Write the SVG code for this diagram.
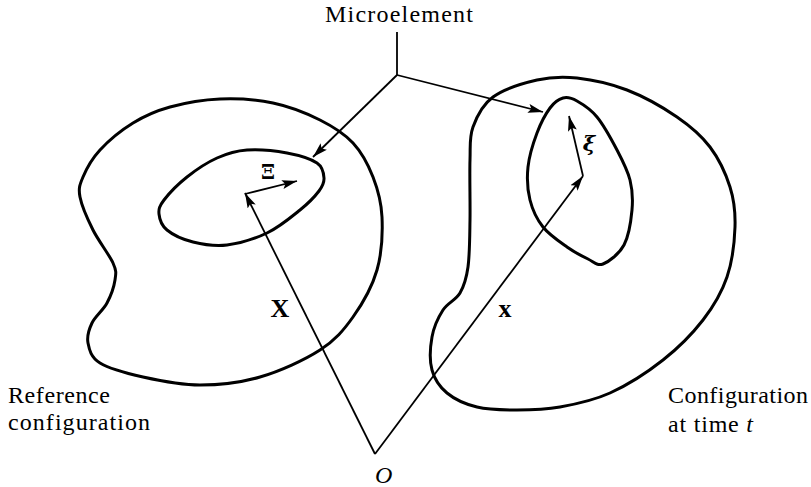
<svg xmlns="http://www.w3.org/2000/svg" width="811" height="487" viewBox="0 0 811 487">
<style>
.shape{fill:none;stroke:#000;stroke-width:3;stroke-linejoin:round}
.vec{fill:none;stroke:#000;stroke-width:1.8}
</style>
<defs>
<marker id="ah" markerUnits="userSpaceOnUse" markerWidth="16" markerHeight="10" refX="15" refY="5" orient="auto">
<path d="M0,0.5 L15,5 L0,9.5 L3,5 z" fill="#000"/>
</marker>
</defs>
<g id="reference-outer">
<path class="shape" d="M220,99 C237.2,98.3 256.3,99.5 273,103 C289.7,106.5 306.7,113.3 320,120 C333.3,126.7 344.2,133.5 353,143 C361.8,152.5 368.2,164.7 373,177 C377.8,189.3 381.3,201.5 382,217 C382.7,232.5 381.8,253.3 377,270 C372.2,286.7 362.5,303.7 353,317 C343.5,330.3 335.5,340 320,350 C304.5,360 280,371.2 260,377 C240,382.8 219.5,385 200,385 C180.5,385 159.7,380.7 143,377 C126.3,373.3 109.2,368.7 100,363 C90.8,357.3 89.3,349.7 88,343 C86.7,336.3 88.8,329.7 92,323 C95.2,316.3 103.2,310.2 107,303 C110.8,295.8 114,286.7 115,280 C116,273.3 116.7,271.3 113,263 C109.3,254.7 98.5,241 93,230 C87.5,219 81.7,205.8 80,197 C78.3,188.2 79.7,184.8 83,177 C86.3,169.2 91.7,159 100,150 C108.3,141 121.3,130.2 133,123 C144.7,115.8 155.5,111 170,107 C184.5,103 202.8,99.7 220,99 Z"/>
</g>
<g id="reference-inner">
<path class="shape" d="M247,150 C258.7,149.2 275.3,150.8 287,153 C298.7,155.2 310.8,158.8 317,163 C323.2,167.2 323.7,173.3 324,178 C324.3,182.7 323,185.7 319,191 C315,196.3 308.7,203 300,210 C291.3,217 279.2,227.2 267,233 C254.8,238.8 239.3,243.5 227,245 C214.7,246.5 203,244.5 193,242 C183,239.5 172.7,234.7 167,230 C161.3,225.3 159.5,219 159,214 C158.5,209 159.3,206.2 164,200 C168.7,193.8 178.2,184 187,177 C195.8,170 207,162.5 217,158 C227,153.5 235.3,150.8 247,150 Z"/>
</g>
<g id="current-outer">
<path class="shape" d="M577,78 C592,79.7 610.3,83.5 627,90 C643.7,96.5 663.2,107.5 677,117 C690.8,126.5 701.2,135.3 710,147 C718.8,158.7 725.8,173.7 730,187 C734.2,200.3 735.5,212 735,227 C734.5,242 732.3,261.5 727,277 C721.7,292.5 713.7,306.2 703,320 C692.3,333.8 678.5,347.8 663,360 C647.5,372.2 627.2,385.2 610,393 C592.8,400.8 575.5,404.2 560,407 C544.5,409.8 530.8,410 517,410 C503.2,410 488.7,409.8 477,407 C465.3,404.2 454.5,399.2 447,393 C439.5,386.8 434.5,379.3 432,370 C429.5,360.7 430.2,347 432,337 C433.8,327 438.3,317.3 443,310 C447.7,302.7 455.8,300.2 460,293 C464.2,285.8 466.3,279.2 468,267 C469.7,254.8 469.7,237.8 470,220 C470.3,202.2 469.5,175.5 470,160 C470.5,144.5 469.2,137.5 473,127 C476.8,116.5 482.3,104.8 493,97 C503.7,89.2 523,83.2 537,80 C551,76.8 562,76.3 577,78 Z"/>
</g>
<g id="current-inner">
<path class="shape" d="M563,98 C567.5,96.8 571.3,97.8 577,101 C582.7,104.2 590.3,108.8 597,117 C603.7,125.2 611.5,139.5 617,150 C622.5,160.5 627.5,170 630,180 C632.5,190 633,199.2 632,210 C631,220.8 628.8,236 624,245 C619.2,254 609,261.7 603,264 C597,266.3 594,261.8 588,259 C582,256.2 574.5,252.3 567,247 C559.5,241.7 549.2,234.8 543,227 C536.8,219.2 532.5,210 530,200 C527.5,190 526.8,178.2 528,167 C529.2,155.8 533.3,142.8 537,133 C540.7,123.2 545.7,113.8 550,108 C554.3,102.2 558.5,99.2 563,98 Z"/>
</g>
<g id="connectors">
<path class="vec" d="M397,32 L397,75"/>
<path class="vec" d="M397,75 L313,157" marker-end="url(#ah)"/>
<path class="vec" d="M397,75 L543,112" marker-end="url(#ah)"/>
<path class="vec" d="M375,454 L245,193" marker-end="url(#ah)"/>
<path class="vec" d="M375,454 L583,176" marker-end="url(#ah)"/>
<path class="vec" d="M245,194 L297,181" marker-end="url(#ah)"/>
<path class="vec" d="M583,176 L569,116" marker-end="url(#ah)"/>
</g>
<g id="labels">
<text style="font-family:'Liberation Serif',serif !important;font-size:24px" x="325" y="22" textLength="148" lengthAdjust="spacing">Microelement</text>
<text style="font-family:'Liberation Serif',serif !important;font-size:24px" x="8" y="403" textLength="102" lengthAdjust="spacing">Reference</text>
<text style="font-family:'Liberation Serif',serif !important;font-size:24px" x="8" y="430" textLength="142" lengthAdjust="spacing">configuration</text>
<text style="font-family:'Liberation Serif',serif !important;font-size:24px" x="668" y="403" textLength="140" lengthAdjust="spacing">Configuration</text>
<text style="font-family:'Liberation Serif',serif !important;font-size:24px" x="668" y="432" textLength="85" lengthAdjust="spacing">at time <tspan style="font-style:italic">t</tspan></text>
<text style="font-family:'Liberation Serif',serif !important;font-size:24px;font-style:italic" x="375" y="483">O</text>
<text style="font-family:'Liberation Serif',serif !important;font-size:26px;font-weight:bold" x="280" y="317" text-anchor="middle">X</text>
<text style="font-family:'Liberation Serif',serif !important;font-size:26px;font-weight:bold" x="505" y="317" text-anchor="middle">x</text>
<text style="font-family:'DejaVu Serif',serif !important;font-size:20px;font-weight:bold" x="268" y="179" text-anchor="middle">Ξ</text>
<text style="font-family:'DejaVu Serif',serif !important;font-size:21px;font-weight:bold;font-style:italic" x="589" y="151" text-anchor="middle">ξ</text>
</g>
</svg>
